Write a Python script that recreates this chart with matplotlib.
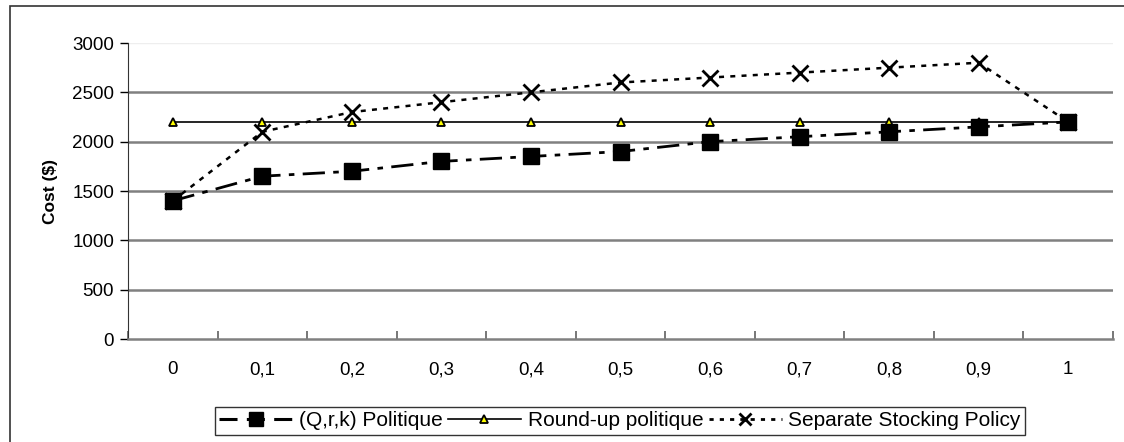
import numpy as np
import matplotlib.pyplot as plt
from matplotlib.patches import Rectangle

plt.rcParams['font.family'] = ['Liberation Sans', 'DejaVu Sans']

# --- DATA ---------------------------------------------------------------
categories = ["0", "0,1", "0,2", "0,3", "0,4", "0,5", "0,6", "0,7", "0,8", "0,9", "1"]
qrk_cost = [1400, 1650, 1700, 1800, 1850, 1900, 2000, 2050, 2100, 2150, 2200]
roundup_cost = [2200, 2200, 2200, 2200, 2200, 2200, 2200, 2200, 2200, 2200, 2200]
separate_cost = [1400, 2100, 2300, 2400, 2500, 2600, 2650, 2700, 2750, 2800, 2200]
y_ticks = [0, 500, 1000, 1500, 2000, 2500, 3000]

W, H = 1124, 442
fig = plt.figure(figsize=(W / 100, H / 100), dpi=100)
ax = fig.add_axes([128 / W, 1 - 339 / H, (1113 - 128) / W, (339 - 43) / H])

# outer chart frame (Excel style)
fig.patches.append(Rectangle((10 / W, -0.05), 1.05, 1 - 6 / H + 0.05,
                             transform=fig.transFigure, fill=False,
                             edgecolor="#333333", linewidth=1.2))

x = np.arange(len(categories))

ax.plot(x, separate_cost, color="black", linestyle=(0, (2, 2.5)), linewidth=1.8,
        marker="x", markersize=11, markeredgewidth=2,
        label="Separate Stocking Policy", zorder=3)
ax.plot(x, roundup_cost, color="black", linestyle="-", linewidth=1.2,
        marker="^", markersize=6, markerfacecolor="yellow", markeredgecolor="black",
        markeredgewidth=1.3, label="Round-up politique", zorder=4)
ax.plot(x, qrk_cost, color="black", linestyle=(0, (8, 3, 2, 3)), linewidth=2,
        marker="s", markersize=11, label="(Q,r,k) Politique", zorder=5)

ax.set_xlim(-0.5, len(categories) - 0.5)
ax.set_ylim(0, 3000)
ax.set_yticks(y_ticks)
ax.set_xticks(x)
ax.set_xticklabels(categories)
ax.set_xticks(np.arange(-0.5, len(categories), 1), minor=True)
ax.tick_params(axis="x", which="major", length=0, pad=16, labelsize=13.5)
ax.tick_params(axis="x", which="minor", length=6, direction="in", color="#606060", width=1.2)
ax.tick_params(axis="y", length=6, direction="out", width=1, labelsize=13.5, pad=4)

for val in y_ticks[1:-1]:
    ax.axhline(val, color="#808080", linewidth=1.8, zorder=1)
ax.axhline(3000, color="#eeeeee", linewidth=1, zorder=1)

for side in ["top", "right"]:
    ax.spines[side].set_visible(False)
ax.spines["bottom"].set_color("#808080")
ax.spines["bottom"].set_linewidth(1.8)
ax.spines["left"].set_color("#333333")

ax.set_ylabel("Cost ($)", fontsize=12.5, fontweight="bold", labelpad=10)

# legend with its own handles (shorter dashes, smaller markers)
h_qrk = plt.Line2D([], [], color="black", linestyle=(0, (5.9, 3.05)), linewidth=2.2,
                   marker="s", markersize=10)
h_round = plt.Line2D([], [], color="black", linestyle="-", linewidth=1.2,
                     marker="^", markersize=5.5, markerfacecolor="yellow",
                     markeredgecolor="black", markeredgewidth=1.3)
h_sep = plt.Line2D([], [], color="black", linestyle=(0, (1.5, 2.2)), linewidth=2,
                   marker="x", markersize=9, markeredgewidth=2)
leg = fig.legend([h_qrk, h_round, h_sep],
                 ["(Q,r,k) Politique", "Round-up politique", "Separate Stocking Policy"],
                 loc="center", bbox_to_anchor=(620 / W, 1 - 421 / H), ncol=3,
                 fontsize=15, frameon=True, fancybox=False, edgecolor="black",
                 handlelength=3.5, handletextpad=0.33, columnspacing=0.25,
                 borderpad=0.2, borderaxespad=0)
leg.get_frame().set_linewidth(1)

fig.savefig("out.png", dpi=100)
